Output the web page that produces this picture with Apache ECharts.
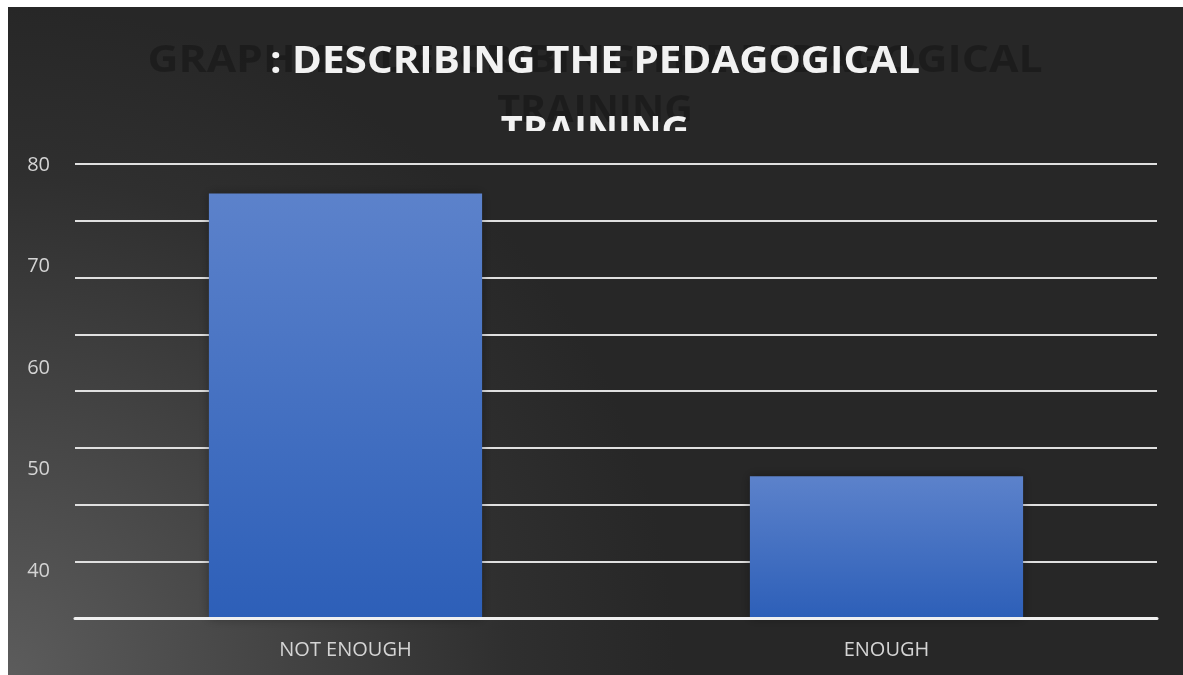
<!DOCTYPE html>
<html>
<head>
<meta charset="utf-8">
<title>Describing the pedagogical training</title>
<script src="https://cdn.jsdelivr.net/npm/echarts@6/dist/echarts.min.js"></script>
<style>
  html, body { margin: 0; padding: 0; background: #ffffff; }
  #chart { position: absolute; left: 8px; top: 7px; width: 1175px; height: 668px; }
</style>
</head>
<body>
<div id="chart"></div>
<script>
// data
const categories = ['NOT ENOUGH', 'ENOUGH']
const values = [77.4, 52.5]
const tickLabels = [40, 50, 60, 70, 80]
const titleLine1 = ': DESCRIBING THE PEDAGOGICAL'
const titleLine2 = 'TRAINING'
const ghostLine1 = 'GRAPH 10: DESCRIBING THE PEDAGOGICAL'

const chart = echarts.init(document.getElementById('chart'))
const bgDark = '#272727'
const titleX = 587 // centre of the title inside the chart box

// the title letters are spaced out, so stretch the text a bit sideways
function titleText (text, y, scaleX, fill, z, ghost) {
  const style = {
    text: text, x: 0, y: 0, fill: fill,
    textAlign: 'center', textVerticalAlign: 'top',
    font: 'bold 37px "Open Sans"'
  }
  if (ghost) {
    style.shadowBlur = 5
    style.shadowColor = 'rgba(0,0,0,0.3)'
  }
  return { type: 'text', x: titleX, y: y, scaleX: scaleX, z: z, style: style }
}

const option = {
  backgroundColor: {
    type: 'radial', x: 0, y: 1, r: 1,
    colorStops: [
      { offset: 0, color: '#5c5c5c' },
      { offset: 0.4, color: '#444444' },
      { offset: 0.75, color: '#2f2f2f' },
      { offset: 1, color: bgDark }
    ]
  },
  animation: false,
  textStyle: { fontFamily: 'Open Sans' },
  grid: { left: 67, right: 26, top: 157, bottom: 57 },
  graphic: [
    // faint copy of the title behind
    titleText(ghostLine1, 36, 1.155, 'rgba(0,0,0,0.27)', 1, true),
    titleText(titleLine2, 86, 1.07, 'rgba(0,0,0,0.27)', 1, true),
    // white title on top
    titleText(titleLine1, 37, 1.093, '#f2f2f2', 2, false),
    titleText(titleLine2, 107, 1.03, '#f2f2f2', 2, false),
    // the second line is cut off at its middle
    {
      type: 'rect', left: 440, top: 124, z: 3,
      shape: { width: 300, height: 30 },
      style: { fill: bgDark }
    }
  ],
  xAxis: {
    type: 'category',
    data: categories,
    z: 5,
    axisLine: { lineStyle: { color: '#f0f0f0', width: 3 } },
    axisTick: { show: false },
    axisLabel: { color: '#d4d4d4', fontSize: 20, margin: 22 }
  },
  yAxis: [
    {
      // gridlines every 5
      type: 'value', min: 40, max: 80, interval: 5,
      axisLabel: { show: false },
      axisLine: { show: false },
      axisTick: { show: false },
      splitLine: { lineStyle: { color: '#e0e0e0', width: 2 } }
    },
    {
      // the labels on the left do not sit on the gridlines in the picture
      type: 'value', position: 'left', min: 35.4, max: 80.1,
      axisLine: { show: false },
      axisTick: { show: false },
      splitLine: { show: false },
      axisLabel: { color: '#d4d4d4', fontSize: 20, margin: 25, customValues: tickLabels }
    }
  ],
  series: [
    {
      type: 'bar',
      yAxisIndex: 0,
      data: values,
      barWidth: '50.5%',
      itemStyle: {
        color: new echarts.graphic.LinearGradient(0, 0, 0, 1, [
          { offset: 0, color: '#5c82cb' },
          { offset: 1, color: '#2d5fb8' }
        ]),
        shadowBlur: 10,
        shadowColor: 'rgba(0,0,0,0.35)'
      }
    }
  ]
}

chart.setOption(option)
</script>
</body>
</html>
